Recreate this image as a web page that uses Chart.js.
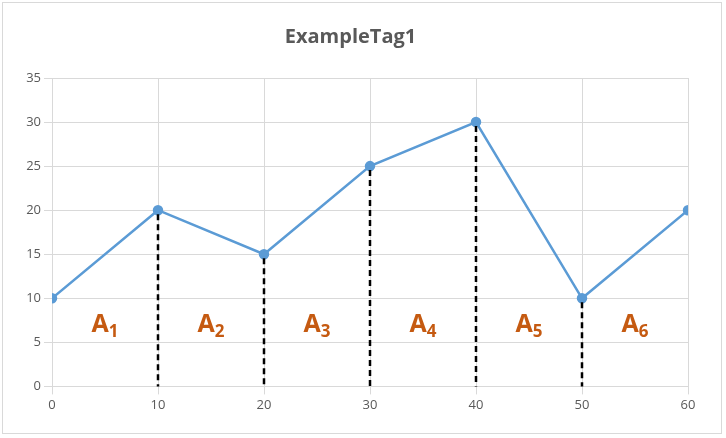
<!DOCTYPE html>
<html>
<head>
<script src="https://cdn.jsdelivr.net/npm/chart.js"></script>
<style>
  body { margin: 0; background: #fff; }
  #wrap { position: absolute; left: 2px; top: 2px; width: 720px; height: 432px; border: 1px solid #d9d9d9; box-sizing: border-box; }
</style>
</head>
<body>
<div id="wrap"><canvas id="myChart"></canvas></div>
<script>
  const xs = [0, 10, 20, 30, 40, 50, 60];
  const ys = [10, 20, 15, 25, 30, 10, 20];
  const dropX = [10, 20, 30, 40, 50];
  const areaNames = ['A', 'A', 'A', 'A', 'A', 'A'];
  const areaSubs = ['1', '2', '3', '4', '5', '6'];
  const areaLabelY = 7;

  // dashed drops and area labels
  const areaPlugin = {
    id: 'areas',
    afterDatasetsDraw(chart) {
      const ctx = chart.ctx, sx = chart.scales.x, sy = chart.scales.y;
      ctx.save();
      ctx.strokeStyle = '#000';
      ctx.lineWidth = 2.5;
      ctx.setLineDash([6, 4]);
      dropX.forEach(function (x) {
        const i = xs.indexOf(x);
        ctx.beginPath();
        ctx.moveTo(sx.getPixelForValue(x), sy.getPixelForValue(ys[i]) + 4);
        ctx.lineTo(sx.getPixelForValue(x), sy.getPixelForValue(0));
        ctx.stroke();
      });
      ctx.setLineDash([]);
      ctx.fillStyle = '#C55A11';
      ctx.textBaseline = 'middle';
      for (let k = 0; k < areaNames.length; k++) {
        const cx = sx.getPixelForValue((xs[k] + xs[k + 1]) / 2);
        const cy = sy.getPixelForValue(areaLabelY);
        ctx.font = 'bold 25px "Open Sans", sans-serif';
        const w1 = ctx.measureText(areaNames[k]).width;
        ctx.font = 'bold 17px "Open Sans", sans-serif';
        const w2 = ctx.measureText(areaSubs[k]).width;
        const left = cx - (w1 + w2) / 2;
        ctx.font = 'bold 25px "Open Sans", sans-serif';
        ctx.fillText(areaNames[k], left, cy);
        ctx.font = 'bold 17px "Open Sans", sans-serif';
        ctx.fillText(areaSubs[k], left + w1, cy + 7);
      }
      ctx.restore();
    }
  };

  new Chart(document.getElementById('myChart'), {
    type: 'line',
    data: {
      datasets: [{
        data: xs.map((x, i) => ({ x: x, y: ys[i] })),
        borderColor: '#5B9BD5',
        backgroundColor: '#5B9BD5',
        borderWidth: 2.5,
        pointRadius: 4,
        tension: 0
      }]
    },
    options: {
      responsive: true,
      maintainAspectRatio: false,
      animation: false,
      layout: { padding: { left: 10, right: 33, top: 8, bottom: 17 } },
      plugins: {
        legend: { display: false },
        tooltip: { enabled: false },
        title: {
          display: true,
          text: 'ExampleTag1',
          color: '#595959',
          font: { family: 'Open Sans', size: 20, weight: 'bold' },
          padding: { top: 14, bottom: 29 }
        }
      },
      scales: {
        x: {
          type: 'linear', min: 0, max: 60,
          ticks: { stepSize: 10, color: '#595959', font: { family: 'Open Sans', size: 13 } },
          grid: { color: '#d9d9d9' },
          border: { color: '#d9d9d9' }
        },
        y: {
          min: 0, max: 35,
          ticks: { stepSize: 5, color: '#595959', font: { family: 'Open Sans', size: 13 } },
          grid: { color: '#d9d9d9' },
          border: { display: false },
          afterFit(s) { s.width = 39; }
        }
      }
    },
    plugins: [areaPlugin]
  });
</script>
</body>
</html>
